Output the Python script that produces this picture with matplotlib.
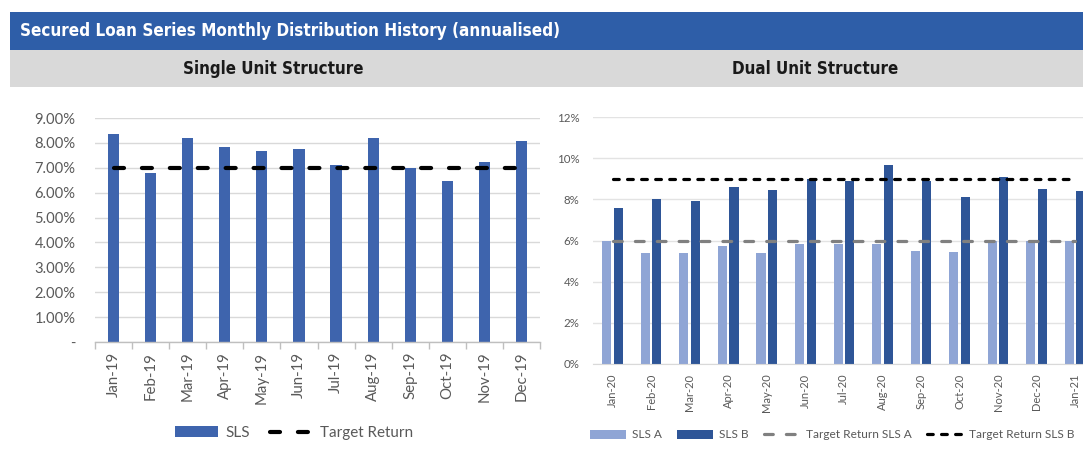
import matplotlib
matplotlib.use('Agg')
import matplotlib.pyplot as plt
from matplotlib.patches import Rectangle, Patch
from matplotlib.lines import Line2D
from matplotlib.ticker import FixedLocator, FuncFormatter
from matplotlib import font_manager as fm
import numpy as np

# ---------------- data ----------------
months_single = ['Jan-19', 'Feb-19', 'Mar-19', 'Apr-19', 'May-19', 'Jun-19',
                 'Jul-19', 'Aug-19', 'Sep-19', 'Oct-19', 'Nov-19', 'Dec-19']
sls_single = [8.37, 6.79, 8.21, 7.83, 7.69, 7.75, 7.12, 8.21, 7.00, 6.45, 7.22, 8.06]
target_single = 7.0

months_dual = ['Jan-20', 'Feb-20', 'Mar-20', 'Apr-20', 'May-20', 'Jun-20', 'Jul-20',
               'Aug-20', 'Sep-20', 'Oct-20', 'Nov-20', 'Dec-20', 'Jan-21']
sls_a = [6.00, 5.40, 5.37, 5.72, 5.37, 5.82, 5.82, 5.84, 5.50, 5.42, 6.00, 6.00, 5.98]
sls_b = [7.57, 8.04, 7.91, 8.61, 8.45, 9.00, 8.87, 9.65, 8.87, 8.12, 9.08, 8.51, 8.42]
target_a = 6.0
target_b = 9.0

left_yticks = [0, 1, 2, 3, 4, 5, 6, 7, 8, 9]
right_yticks = [0, 2, 4, 6, 8, 10, 12]

title = 'Secured Loan Series Monthly Distribution History (annualised)'
sub_left = 'Single Unit Structure'
sub_right = 'Dual Unit Structure'

# ---------------- fonts ----------------
def pick(names):
    for n in names:
        try:
            fm.findfont(fm.FontProperties(family=n), fallback_to_default=False)
            return n
        except Exception:
            pass
    return 'DejaVu Sans'

body_font = pick(['Lato', 'Open Sans', 'DejaVu Sans'])
narrow_font = pick(['Liberation Sans Narrow'])
narrow_kw = dict(family=[narrow_font, 'DejaVu Sans'], weight='bold')
if narrow_font == 'DejaVu Sans':
    narrow_kw['stretch'] = 'condensed'

plt.rcParams['font.family'] = [body_font, 'DejaVu Sans']

W, H = 1083, 459
fig = plt.figure(figsize=(W / 100, H / 100), dpi=100)

def fx(px):
    return px / W

def fy(py):
    return 1 - py / H

# ---------------- header ----------------
blue_hdr = '#2E5EA8'
grey_hdr = '#D9D9D9'
fig.add_artist(Rectangle((fx(10), fy(50)), 1 - fx(10), fy(12) - fy(50),
                         transform=fig.transFigure, facecolor=blue_hdr, edgecolor='none'))
fig.add_artist(Rectangle((fx(10), fy(87)), 1 - fx(10), fy(50) - fy(87),
                         transform=fig.transFigure, facecolor=grey_hdr, edgecolor='none'))
fig.text(fx(20), fy(31), title, color='white', fontsize=12.25, va='center', ha='left', **narrow_kw)
fig.text(fx(273), fy(69), sub_left, color='#1a1a1a', fontsize=12.2, va='center', ha='center', **narrow_kw)
fig.text(fx(815), fy(69), sub_right, color='#1a1a1a', fontsize=12.2, va='center', ha='center', **narrow_kw)

label_col = '#595959'

# ---------------- left chart ----------------
axL = fig.add_axes([fx(95), fy(342), fx(540) - fx(95), fy(118) - fy(342)])
xs = np.arange(len(months_single))
bar_col = '#3E64AD'
axL.bar(xs, sls_single, width=0.3, color=bar_col, zorder=2)
axL.plot(xs, [target_single] * len(xs), color='black', lw=3.0,
         dash_capstyle='round', dashes=(2.4, 4.3), zorder=3)
axL.set_xlim(-0.5, len(xs) - 0.5)
axL.set_ylim(0, 9)
axL.yaxis.set_major_locator(FixedLocator(left_yticks))
axL.yaxis.set_major_formatter(FuncFormatter(lambda v, p: '-' if v == 0 else f'{v:.2f}%'))
axL.grid(axis='y', color='#D9D9D9', lw=1.0, zorder=0)
axL.set_axisbelow(True)
for s in ['top', 'right', 'left']:
    axL.spines[s].set_visible(False)
axL.spines['bottom'].set_color('#BFBFBF')
axL.spines['bottom'].set_linewidth(1.0)
axL.set_xticks(xs)
axL.set_xticklabels(months_single, rotation=90, fontsize=10.8, color=label_col)
axL.set_xticks(np.arange(-0.5, len(xs)), minor=True)
axL.tick_params(axis='x', which='major', length=0, pad=7)
axL.tick_params(axis='x', which='minor', length=5, color='#BFBFBF', width=1.0)
axL.tick_params(axis='y', length=0, pad=14, labelsize=10.6, labelcolor=label_col)

hL = [Patch(facecolor=bar_col, edgecolor='none', label='SLS'),
      Line2D([], [], color='black', lw=3.0, dashes=(2.4, 4.3), dash_capstyle='round', label='Target Return')]
fig.legend(handles=hL, loc='center', bbox_to_anchor=(fx(294), fy(433)), ncol=2, frameon=False,
           fontsize=11, handlelength=2.8, handletextpad=0.5, columnspacing=1.3, labelcolor=label_col)

# ---------------- right chart ----------------
cat_w = 38.55
axR = fig.add_axes([fx(593.3), fy(364), fx(13 * cat_w), fy(117) - fy(364)])
xd = np.arange(len(months_dual))
col_a = '#8FA5D5'
col_b = '#2E5597'
axR.bar(xd - 0.15, sls_a, width=0.235, color=col_a, zorder=2)
axR.bar(xd + 0.15, sls_b, width=0.235, color=col_b, zorder=2)
axR.plot(xd, [target_a] * len(xd), color='#808080', lw=2.3, dashes=(2.75, 4.1),
         dash_capstyle='round', zorder=3)
axR.plot(xd, [target_b] * len(xd), color='black', lw=2.3, dashes=(1.8, 2.6),
         dash_capstyle='round', zorder=3)
axR.set_xlim(-0.5, len(xd) - 0.5)
axR.set_ylim(0, 12)
axR.yaxis.set_major_locator(FixedLocator(right_yticks))
axR.yaxis.set_major_formatter(FuncFormatter(lambda v, p: f'{v:.0f}%'))
axR.grid(axis='y', color='#E3E3E3', lw=1.0, zorder=0)
axR.set_axisbelow(True)
for s in ['top', 'right', 'left']:
    axR.spines[s].set_visible(False)
axR.spines['bottom'].set_color('#D9D9D9')
axR.set_xticks(xd)
axR.set_xticklabels(months_dual, rotation=90, fontsize=8, color=label_col)
axR.tick_params(axis='x', length=0, pad=7)
axR.tick_params(axis='y', length=0, pad=10, labelsize=8.3, labelcolor=label_col)

hR = [Patch(facecolor=col_a, edgecolor='none', label='SLS A'),
      Patch(facecolor=col_b, edgecolor='none', label='SLS B'),
      Line2D([], [], color='#808080', lw=2.3, dashes=(2.75, 4.1), dash_capstyle='round', label='Target Return SLS A'),
      Line2D([], [], color='black', lw=2.3, dashes=(1.8, 2.6), dash_capstyle='round', label='Target Return SLS B')]
fig.legend(handles=hR, loc='center', bbox_to_anchor=(fx(832), fy(435)), ncol=4, frameon=False,
           fontsize=8.6, handlelength=3.0, handletextpad=0.5, columnspacing=1.3, labelcolor=label_col)

fig.savefig('out.png', dpi=100)
